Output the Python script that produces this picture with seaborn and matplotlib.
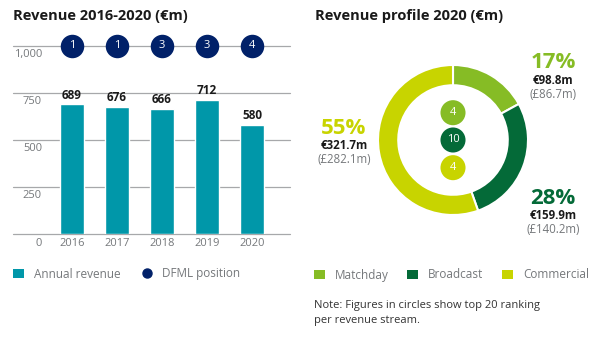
import matplotlib
matplotlib.use("Agg")
import matplotlib.pyplot as plt
import matplotlib.transforms as mtransforms
from matplotlib.patches import Patch, Circle
from matplotlib.lines import Line2D
import seaborn as sns
import pandas as pd

# ---------------- data ----------------
years = ["2016", "2017", "2018", "2019", "2020"]
revenue = [689, 676, 666, 712, 580]
dfml_position = [1, 1, 3, 3, 4]
y_ticks = [0, 250, 500, 750, 1000]
y_tick_labels = ["0", "250", "500", "750", "1,000"]

streams = ["Matchday", "Broadcast", "Commercial"]
stream_eur = [98.8, 159.9, 321.7]
stream_gbp = [86.7, 140.2, 282.1]
stream_pct = ["17%", "28%", "55%"]
stream_rank = [4, 10, 4]

# ---------------- style ----------------
TEAL = "#0097A9"
NAVY = "#012169"
GREENS = ["#86BC25", "#046A38", "#C8D400"]
GRAY = "#75787B"
GRID = "#A7A8AA"
DARK = "#1A1A1A"

sns.set_style("white")
plt.rcParams["font.family"] = ["Open Sans", "DejaVu Sans"]

W, H = 605, 339
fig = plt.figure(figsize=(W / 100, H / 100), dpi=100)


def px_axes(left, top, width, height):
    return fig.add_axes([left / W, 1 - (top + height) / H, width / W, height / H])


# ---------------- left: bar chart ----------------
ax = px_axes(13, 46, 277, 188)
df = pd.DataFrame({"year": years, "revenue": revenue})
sns.barplot(data=df, x="year", y="revenue", color=TEAL, saturation=1,
            width=0.533, ax=ax)
for bar in ax.containers[0]:
    bar.set_zorder(3)
ax.set_xlim(-1.311, 4.844)
ax.set_ylim(0, 1000)
for s in ax.spines.values():
    s.set_visible(False)
for v in y_ticks:
    ax.axhline(v, color=GRID, lw=0.9, zorder=1, clip_on=False)
ax.set_yticks([])
ax.set_xlabel("")
ax.set_ylabel("")
ax.tick_params(axis="x", length=0, pad=3, labelsize=8, labelcolor=GRAY)

ytrans = mtransforms.blended_transform_factory(ax.transAxes, ax.transData)
yoff = mtransforms.ScaledTranslation(0, -9 / 100, fig.dpi_scale_trans)
for v, lab in zip(y_ticks, y_tick_labels):
    ax.text(29 / 277, v, lab, transform=ytrans + yoff, ha="right", va="center",
            fontsize=8, color=GRAY)

ax.bar_label(ax.containers[0], labels=[str(v) for v in revenue], padding=2,
             fontsize=8.5, fontweight="bold", color=DARK, zorder=4)

ax.scatter(range(len(years)), [1000] * len(years), s=286, color=NAVY,
           clip_on=False, zorder=5, linewidths=0)
for i, p in enumerate(dfml_position):
    ax.text(i, 1000, str(p), ha="center", va="center", color="white",
            fontsize=8, zorder=6)

fig.text(13 / W, 1 - 16 / H, "Revenue 2016-2020 (€m)", fontsize=10.5,
         fontweight="bold", color=DARK, va="center")

left_handles = [Patch(facecolor=TEAL, edgecolor="none"),
                Line2D([], [], marker="o", color=NAVY, linestyle="none", markersize=6.5)]
fig.legend(left_handles, ["Annual revenue", "DFML position"], loc="center left",
           bbox_to_anchor=(13 / W, 1 - 274 / H), ncol=2, frameon=False,
           fontsize=8.5, handlelength=0.9, handleheight=0.9, handletextpad=0.85,
           columnspacing=1.8, borderpad=0, borderaxespad=0, labelcolor=GRAY)

# ---------------- right: donut ----------------
fig.text(315 / W, 1 - 16 / H, "Revenue profile 2020 (€m)", fontsize=10.5,
         fontweight="bold", color=DARK, va="center")

axp = px_axes(378, 65, 150, 150)
axp.pie(stream_eur, colors=GREENS, startangle=90, counterclock=False,
        wedgeprops=dict(width=0.27, edgecolor="white", linewidth=1.5))
axp.set_xlim(-1, 1)
axp.set_ylim(-1, 1)
axp.axis("off")

circle_y = [0.364, 0.0, -0.369]
for y, c, r in zip(circle_y, GREENS, stream_rank):
    axp.add_patch(Circle((0, y), 0.167, facecolor=c, edgecolor="none"))
    axp.text(0, y, str(r), ha="center", va="center", color="white", fontsize=8)

label_pos = [(1.333, 1.033), (1.333, -0.778), (-1.453, 0.156)]
for (x, y), pct, eur, gbp, c in zip(label_pos, stream_pct, stream_eur, stream_gbp, GREENS):
    axp.text(x, y, pct, ha="center", va="center", fontsize=16, fontweight="bold",
             color=c, clip_on=False)
    axp.text(x, y - 0.233, f"€{eur:.1f}m", ha="center", va="center", fontsize=8.3,
             fontweight="bold", color=DARK, clip_on=False)
    axp.text(x, y - 0.42, f"(£{gbp:.1f}m)", ha="center", va="center", fontsize=8.3,
             color=GRAY, clip_on=False)

right_handles = [Patch(facecolor=c, edgecolor="none") for c in GREENS]
fig.legend(right_handles, streams, loc="center left",
           bbox_to_anchor=(314 / W, 1 - 275 / H), ncol=3, frameon=False,
           fontsize=8.5, handlelength=0.9, handleheight=0.9, handletextpad=0.85,
           columnspacing=1.6, borderpad=0, borderaxespad=0, labelcolor=GRAY)

fig.text(314 / W, 1 - 300 / H,
         "Note: Figures in circles show top 20 ranking\nper revenue stream.",
         fontsize=8, color="#333333", va="top", linespacing=1.5)

fig.savefig("out.png", dpi=100)
